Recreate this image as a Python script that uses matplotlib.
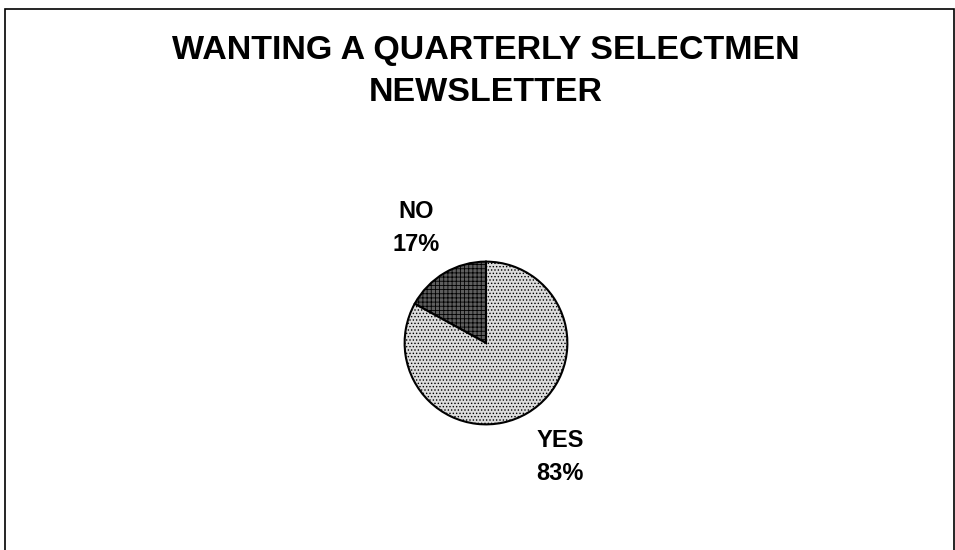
import matplotlib.pyplot as plt
from matplotlib.patches import Rectangle

labels = ['NO', 'YES']
shares = [17, 83]
title_lines = ['WANTING A QUARTERLY SELECTMEN', 'NEWSLETTER']

plt.rcParams['font.family'] = ['Liberation Sans', 'DejaVu Sans']
plt.rcParams['hatch.linewidth'] = 0.6

W, H = 955, 550
fig = plt.figure(figsize=(W / 100, H / 100), dpi=100)

# frame around the chart area (open at the bottom)
fig.patches.append(Rectangle((5 / W, -0.05), 949 / W, 1.05 - 9 / H,
                             transform=fig.transFigure, fill=False,
                             edgecolor='black', linewidth=1.2))

# title, baselines in px from top
for line, ypx in zip(title_lines, [59, 101]):
    fig.text(486 / W, 1 - ypx / H, line, ha='center', va='baseline',
             fontsize=24.5, fontweight='bold')

# pie axes: centre (486, 343), radius ~83 px
r = 83
cx, cy = 486, 343
ax = fig.add_axes([(cx - r) / W, (H - cy - r) / H, 2 * r / W, 2 * r / H])
wedges, _ = ax.pie(shares, startangle=90, counterclock=True,
                   colors=['#5e5e5e', '#dcdcdc'],
                   wedgeprops=dict(edgecolor='black', linewidth=1.5))
wedges[0].set_hatch('++++')
wedges[1].set_hatch('.....')
ax.set_xlim(-1.02, 1.02)
ax.set_ylim(-1.02, 1.02)

# label positions (px): centre x, baseline of first line
label_px = [(416, 218), (560, 447)]
for lab, s, (x, y) in zip(labels, shares, label_px):
    fig.text(x / W, 1 - y / H, lab, ha='center', va='baseline',
             fontsize=17, fontweight='bold')
    fig.text(x / W, 1 - (y + 33) / H, f'{s}%', ha='center', va='baseline',
             fontsize=17, fontweight='bold')

fig.savefig('out.png', dpi=100)
